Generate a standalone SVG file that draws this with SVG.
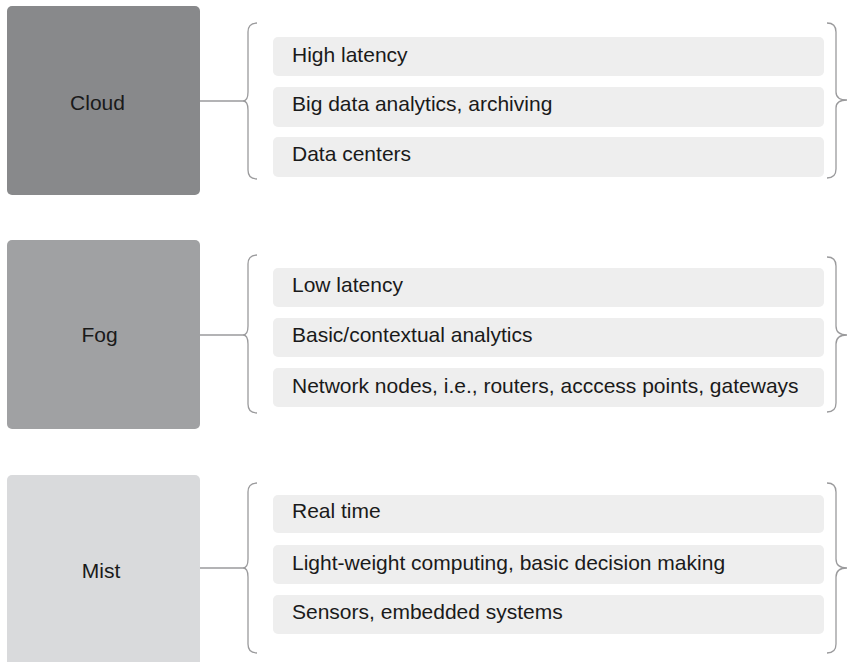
<svg xmlns="http://www.w3.org/2000/svg" width="848" height="662" viewBox="0 0 848 662">
<style>
  .tier { stroke: none; }
  .item { fill: #eeeeee; }
  .lbl { font-family: "Liberation Sans", Arial, sans-serif; font-size: 21px; fill: #1a1a1a; }
  .brace { fill: none; stroke: #9a9a9c; stroke-width: 1.3; }
</style>
<rect width="848" height="662" fill="#ffffff"/>

<g id="cloud">
  <rect class="tier" x="7" y="6" width="193" height="189" rx="5" fill="#88898b"/>
  <text class="lbl" x="97.5" y="110" text-anchor="middle">Cloud</text>
</g>
<g id="cloud-items">
  <rect class="item" x="273" y="37" width="551" height="39" rx="5"/>
  <text class="lbl" x="292" y="62">High latency</text>
  <rect class="item" x="273" y="87" width="551" height="40" rx="5"/>
  <text class="lbl" x="292" y="111">Big data analytics, archiving</text>
  <rect class="item" x="273" y="137" width="551" height="40" rx="5"/>
  <text class="lbl" x="292" y="161">Data centers</text>
</g>

<g id="fog">
  <rect class="tier" x="7" y="240" width="193" height="189" rx="5" fill="#a0a1a3"/>
  <text class="lbl" x="99.5" y="342" text-anchor="middle">Fog</text>
</g>
<g id="fog-items">
  <rect class="item" x="273" y="268" width="551" height="39" rx="5"/>
  <text class="lbl" x="292" y="292">Low latency</text>
  <rect class="item" x="273" y="318" width="551" height="39" rx="5"/>
  <text class="lbl" x="292" y="342">Basic/contextual analytics</text>
  <rect class="item" x="273" y="368" width="551" height="39" rx="5"/>
  <text class="lbl" x="292" y="393">Network nodes, i.e., routers, acccess points, gateways</text>
</g>

<g id="mist">
  <rect class="tier" x="7" y="475" width="193" height="192" rx="5" fill="#d9dadc"/>
  <text class="lbl" x="101" y="578" text-anchor="middle">Mist</text>
</g>
<g id="mist-items">
  <rect class="item" x="273" y="495" width="551" height="38" rx="5"/>
  <text class="lbl" x="292" y="518">Real time</text>
  <rect class="item" x="273" y="545" width="551" height="39" rx="5"/>
  <text class="lbl" x="292" y="570">Light-weight computing, basic decision making</text>
  <rect class="item" x="273" y="595" width="551" height="39" rx="5"/>
  <text class="lbl" x="292" y="619">Sensors, embedded systems</text>
</g>

<g id="connectors">
  <line class="brace" x1="200" y1="101" x2="243" y2="101"/>
  <path class="brace" d="M257,23 Q248,23 248,32 L248,92 Q248,101 243,101 Q248,101 248,110 L248,170 Q248,179 257,179"/>
  <path class="brace" d="M827,23 Q836,23 836,32 L836,92 Q836,100 847,100 Q836,100 836,108 L836,169 Q836,178 827,178"/>

  <line class="brace" x1="200" y1="335" x2="243" y2="335"/>
  <path class="brace" d="M257,255 Q248,255 248,264 L248,326 Q248,335 243,335 Q248,335 248,344 L248,404 Q248,413 257,413"/>
  <path class="brace" d="M827,257 Q836,257 836,266 L836,326 Q836,335 847,335 Q836,335 836,344 L836,403 Q836,412 827,412"/>

  <line class="brace" x1="200" y1="568" x2="243" y2="568"/>
  <path class="brace" d="M257,483 Q248,483 248,492 L248,559 Q248,568 243,568 Q248,568 248,577 L248,644 Q248,653 257,653"/>
  <path class="brace" d="M827,483 Q836,483 836,492 L836,559 Q836,568 847,568 Q836,568 836,577 L836,644 Q836,653 827,653"/>
</g>
</svg>
